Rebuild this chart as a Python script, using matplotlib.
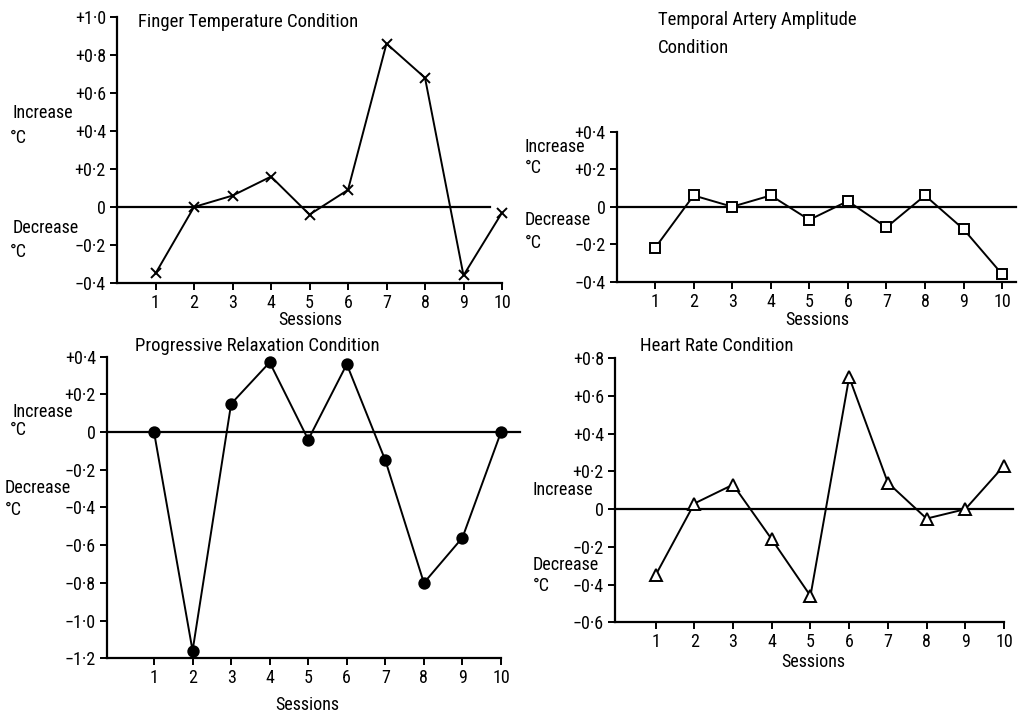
import matplotlib
matplotlib.use('Agg')
import matplotlib.pyplot as plt

W, H = 1018, 714

sessions = [1, 2, 3, 4, 5, 6, 7, 8, 9, 10]

finger = [-0.35, 0.0, 0.06, 0.16, -0.04, 0.09, 0.86, 0.68, -0.36, -0.03]
temporal = [-0.22, 0.06, 0.0, 0.06, -0.07, 0.03, -0.11, 0.06, -0.12, -0.36]
relax = [0.0, -1.16, 0.15, 0.37, -0.04, 0.36, -0.15, -0.80, -0.56, 0.0]
heart = [-0.35, 0.03, 0.13, -0.16, -0.46, 0.70, 0.14, -0.05, 0.0, 0.23]

finger_ticks = [-0.4, -0.2, 0, 0.2, 0.4, 0.6, 0.8, 1.0]
temporal_ticks = [-0.4, -0.2, 0, 0.2, 0.4]
relax_ticks = [-1.2, -1.0, -0.8, -0.6, -0.4, -0.2, 0, 0.2, 0.4]
heart_ticks = [-0.6, -0.4, -0.2, 0, 0.2, 0.4, 0.6, 0.8]

plt.rcParams['font.family'] = ['Roboto Condensed', 'Liberation Sans', 'DejaVu Sans']
plt.rcParams['font.size'] = 13

def fmt(v):
    if abs(v) < 1e-9:
        return '0'
    sign = '+' if v > 0 else '\u2212'
    return sign + ('%.1f' % abs(v)).replace('.', '\u00b7')

def px(x, y):
    return x / W, 1 - y / H

def panel(fig, box, xlim, yticks, vals, marker, ms, face, zero_end):
    l, r, t, b = box
    ax = fig.add_axes([l / W, 1 - b / H, (r - l) / W, (b - t) / H])
    ax.set_xlim(*xlim)
    ax.set_ylim(yticks[0], yticks[-1])
    ax.axhline(0, 0, zero_end, color='black', lw=1.6, zorder=1, clip_on=False)
    ax.plot(sessions, vals, color='black', lw=1.4, marker=marker, ms=ms,
            mfc=face, mec='black', mew=1.4, zorder=3, clip_on=False)
    for s in ('top', 'right'):
        ax.spines[s].set_visible(False)
    for s in ('left', 'bottom'):
        ax.spines[s].set_linewidth(1.6)
    ax.set_xticks(sessions)
    ax.set_xticklabels([str(s) for s in sessions])
    ax.set_yticks(yticks)
    ax.set_yticklabels([fmt(v) for v in yticks])
    ax.tick_params(axis='both', length=5, width=1.4, pad=3, labelsize=13)
    ax.patch.set_alpha(0)
    return ax

fig = plt.figure(figsize=(W / 100, H / 100), dpi=100)

# top left
panel(fig, (117, 502, 17, 283), (0, 10), finger_ticks, finger, 'x', 7, 'none', 0.97)
fig.text(*px(138, 22), 'Finger Temperature Condition', va='center', fontsize=13.5)
fig.text(*px(12, 113), 'Increase', va='center')
fig.text(*px(10, 138), '\u00b0C', va='center')
fig.text(*px(13, 228), 'Decrease', va='center')
fig.text(*px(10, 252), '\u00b0C', va='center')
fig.text(*px(310, 320), 'Sessions', va='center', ha='center')

# top right
panel(fig, (616.5, 1016, 131.7, 281.7), (0, 10.36), temporal_ticks, temporal, 's', 7.5, 'white', 1.0)
fig.text(*px(658, 20), 'Temporal Artery Amplitude', va='center', fontsize=13.5)
fig.text(*px(658, 48), 'Condition', va='center', fontsize=13.5)
fig.text(*px(525, 147), 'Increase', va='center')
fig.text(*px(525, 168), '\u00b0C', va='center')
fig.text(*px(525, 220), 'Decrease', va='center')
fig.text(*px(525, 243), '\u00b0C', va='center')
fig.text(*px(817, 320), 'Sessions', va='center', ha='center')

# bottom left
panel(fig, (107, 501, 356.7, 658.3), (-0.22, 10), relax_ticks, relax, 'o', 7.5, 'black', 1.048)
fig.text(*px(135, 346), 'Progressive Relaxation Condition', va='center', fontsize=13.5)
fig.text(*px(12, 412), 'Increase', va='center')
fig.text(*px(10, 430), '\u00b0C', va='center')
fig.text(*px(5, 488), 'Decrease', va='center')
fig.text(*px(5, 510), '\u00b0C', va='center')
fig.text(*px(307, 705), 'Sessions', va='center', ha='center')

# bottom right
panel(fig, (615, 1004, 358.3, 622.3), (-0.05, 10), heart_ticks, heart, '^', 8.5, 'white', 1.023)
fig.text(*px(640, 346), 'Heart Rate Condition', va='center', fontsize=13.5)
fig.text(*px(533, 490), 'Increase', va='center')
fig.text(*px(533, 565), 'Decrease', va='center')
fig.text(*px(533, 586), '\u00b0C', va='center')
fig.text(*px(813, 662), 'Sessions', va='center', ha='center')

fig.savefig('out.png', dpi=100)
